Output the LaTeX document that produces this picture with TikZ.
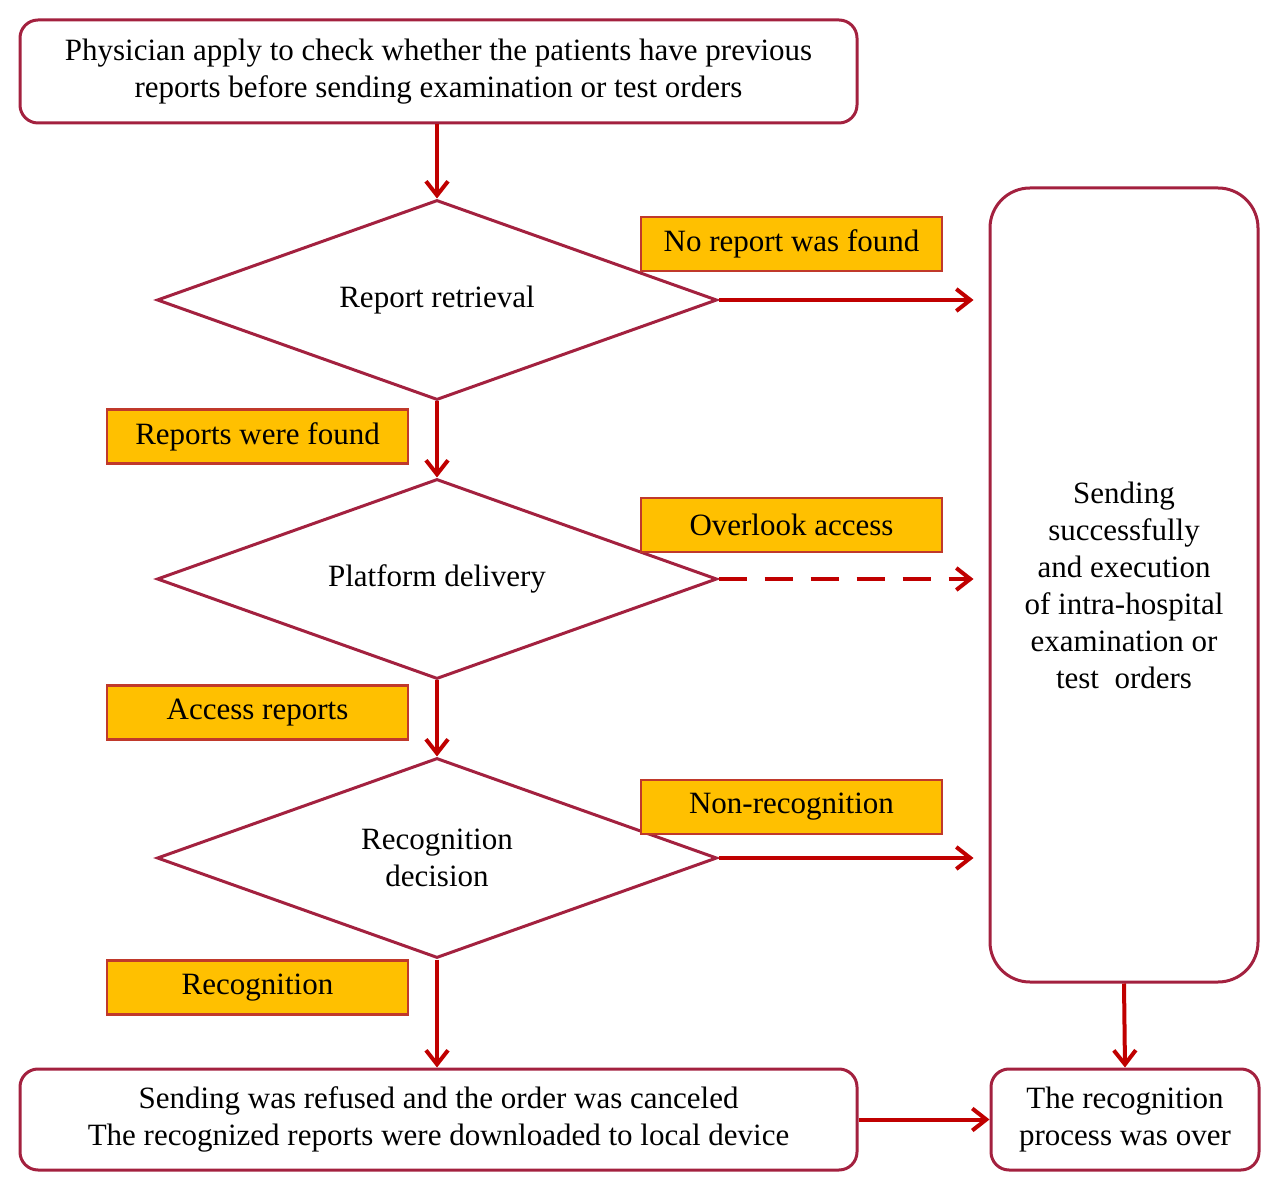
\documentclass[tikz,border=0pt]{standalone}
\usepackage{fontspec}
\setmainfont{Liberation Serif}
\usetikzlibrary{shapes.geometric,arrows.meta}
\definecolor{boxred}{HTML}{A3213F}
\definecolor{arrred}{HTML}{C00000}
\definecolor{lblfill}{HTML}{FFC000}
\definecolor{lbldraw}{HTML}{C0392B}
\begin{document}
\begin{tikzpicture}[x=0.5pt,y=-0.5pt,
  every node/.style={font=\fontsize{15.5}{18.5}\selectfont},
  rbox/.style={draw=boxred,line width=1.5pt,rounded corners=9pt,align=center,inner sep=0},
  dia/.style={draw=boxred,line width=1.5pt,diamond,aspect=2.8,minimum width=280pt,minimum height=100pt,inner sep=0,align=center},
  lbl/.style={draw=lbldraw,fill=lblfill,line width=1.2pt,minimum width=150.5pt,minimum height=27pt,inner sep=0},
  arr/.style={draw=arrred,line width=2pt,-{Straight Barb[length=7pt,width=11pt,line width=2pt]}}]
\useasboundingbox (0,0) rectangle (1280,1197);
\node[rbox,minimum width=418.5pt,minimum height=51.5pt] (top) at (438.5,71.5) {Physician apply to check whether the patients have previous\\reports before sending examination or test orders};
\node[dia] (d1) at (437,300) {Report retrieval};
\node[dia] (d2) at (437,579) {Platform delivery};
\node[dia] (d3) at (437,858) {Recognition\\decision};
\node[rbox,rounded corners=20pt,minimum width=134pt,minimum height=397pt] (tall) at (1124,585) {Sending\\successfully\\and execution\\of intra-hospital\\examination or\\test\ \ orders};
\node[rbox,minimum width=418.5pt,minimum height=50.5pt] (bl) at (438.5,1119.5) {Sending was refused and the order was canceled\\The recognized reports were downloaded to local device};
\node[rbox,minimum width=134pt,minimum height=50.5pt] (br) at (1125,1119.5) {The recognition\\process was over};
\node[lbl] (l1) at (791.5,244) {No report was found};
\node[lbl] (l2) at (257.5,436.5) {Reports were found};
\node[lbl] (l3) at (791.5,525) {Overlook access};
\node[lbl] (l4) at (257.5,712.5) {Access reports};
\node[lbl] (l5) at (791.5,807) {Non-recognition};
\node[lbl] (l6) at (257.5,987.5) {Recognition};
\draw[arr] (top.south -| d1.north) -- (d1.north);
\draw[arr] (d1.south) -- (d2.north);
\draw[arr] (d2.south) -- (d3.north);
\draw[arr] (d3.south) -- (d3.south |- bl.north);
\draw[arr,shorten >=7.5pt] (d1.east) -- (d1.east -| tall.west);
\draw[arr,dashed,dash pattern=on 14pt off 9pt,shorten >=7.5pt] (d2.east) -- (d2.east -| tall.west);
\draw[arr,shorten >=7.5pt] (d3.east) -- (d3.east -| tall.west);
\draw[arr] (bl.east) -- (br.west);
\draw[arr] (tall.south) -- (br.north);
\end{tikzpicture}
\end{document}
